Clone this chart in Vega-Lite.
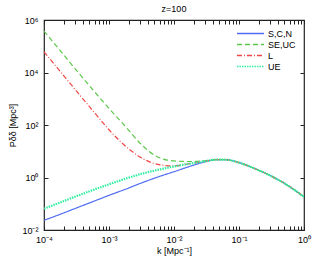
{
  "$schema": "https://vega.github.io/schema/vega-lite/v6.json",
  "width": 260,
  "height": 210,
  "autosize": {"type": "none"},
  "padding": {"left": 44, "top": 20, "right": 11, "bottom": 31},
  "background": "white",
  "title": {"text": "z=100", "fontSize": 9, "font": "Liberation Sans", "fontWeight": "normal", "offset": 2, "color": "black"},
  "config": {
    "view": {"stroke": "#222", "strokeWidth": 1.2},
    "axis": {"domain": false, "grid": false, "tickColor": "#222", "tickSize": -4, "labelFont": "Liberation Sans", "labelFontSize": 9, "labelColor": "black", "titleFont": "Liberation Sans", "titleFontSize": 9, "titleFontWeight": "normal", "titleColor": "black", "labelOverlap": false, "labelBound": false, "labelFlush": false},
    "legend": {"labelFont": "Liberation Sans", "labelFontSize": 9, "labelColor": "black"}
  },
  "data": {"values": [
    {"k": 0.0001, "P": 0.0234, "s": "S,C,N"},
    {"k": 0.000178, "P": 0.0398, "s": "S,C,N"},
    {"k": 0.000316, "P": 0.0692, "s": "S,C,N"},
    {"k": 0.000562, "P": 0.12, "s": "S,C,N"},
    {"k": 0.001, "P": 0.209, "s": "S,C,N"},
    {"k": 0.00178, "P": 0.355, "s": "S,C,N"},
    {"k": 0.00316, "P": 0.62, "s": "S,C,N"},
    {"k": 0.00562, "P": 1.04, "s": "S,C,N"},
    {"k": 0.01, "P": 1.66, "s": "S,C,N"},
    {"k": 0.0178, "P": 2.69, "s": "S,C,N"},
    {"k": 0.0316, "P": 4.07, "s": "S,C,N"},
    {"k": 0.0447, "P": 4.79, "s": "S,C,N"},
    {"k": 0.0631, "P": 4.75, "s": "S,C,N"},
    {"k": 0.1, "P": 3.7, "s": "S,C,N"},
    {"k": 0.178, "P": 2.14, "s": "S,C,N"},
    {"k": 0.316, "P": 1.12, "s": "S,C,N"},
    {"k": 0.562, "P": 0.5, "s": "S,C,N"},
    {"k": 1.0, "P": 0.182, "s": "S,C,N"},

    {"k": 0.0001, "P": 380000, "s": "SE,UC"},
    {"k": 0.000178, "P": 67600, "s": "SE,UC"},
    {"k": 0.000316, "P": 12000, "s": "SE,UC"},
    {"k": 0.000562, "P": 2240, "s": "SE,UC"},
    {"k": 0.001, "P": 427, "s": "SE,UC"},
    {"k": 0.00178, "P": 89, "s": "SE,UC"},
    {"k": 0.00316, "P": 17.8, "s": "SE,UC"},
    {"k": 0.00562, "P": 6.0, "s": "SE,UC"},
    {"k": 0.01, "P": 4.27, "s": "SE,UC"},
    {"k": 0.0178, "P": 4.07, "s": "SE,UC"},
    {"k": 0.0316, "P": 4.37, "s": "SE,UC"},
    {"k": 0.0447, "P": 4.79, "s": "SE,UC"},
    {"k": 0.0631, "P": 4.75, "s": "SE,UC"},
    {"k": 0.1, "P": 3.7, "s": "SE,UC"},
    {"k": 0.178, "P": 2.14, "s": "SE,UC"},
    {"k": 0.316, "P": 1.12, "s": "SE,UC"},
    {"k": 0.562, "P": 0.5, "s": "SE,UC"},
    {"k": 1.0, "P": 0.182, "s": "SE,UC"},

    {"k": 0.0001, "P": 61660, "s": "L"},
    {"k": 0.000178, "P": 10965, "s": "L"},
    {"k": 0.000316, "P": 1950, "s": "L"},
    {"k": 0.000562, "P": 355, "s": "L"},
    {"k": 0.001, "P": 66, "s": "L"},
    {"k": 0.00178, "P": 15.8, "s": "L"},
    {"k": 0.00316, "P": 5.6, "s": "L"},
    {"k": 0.00562, "P": 3.16, "s": "L"},
    {"k": 0.01, "P": 2.75, "s": "L"},
    {"k": 0.0178, "P": 3.39, "s": "L"},
    {"k": 0.0316, "P": 4.27, "s": "L"},
    {"k": 0.0447, "P": 4.79, "s": "L"},
    {"k": 0.0631, "P": 4.75, "s": "L"},
    {"k": 0.1, "P": 3.7, "s": "L"},
    {"k": 0.178, "P": 2.14, "s": "L"},
    {"k": 0.316, "P": 1.12, "s": "L"},
    {"k": 0.562, "P": 0.5, "s": "L"},
    {"k": 1.0, "P": 0.182, "s": "L"},

    {"k": 0.0001, "P": 0.0646, "s": "UE"},
    {"k": 0.000178, "P": 0.112, "s": "UE"},
    {"k": 0.000316, "P": 0.195, "s": "UE"},
    {"k": 0.000562, "P": 0.331, "s": "UE"},
    {"k": 0.001, "P": 0.55, "s": "UE"},
    {"k": 0.00178, "P": 0.891, "s": "UE"},
    {"k": 0.00316, "P": 1.38, "s": "UE"},
    {"k": 0.00562, "P": 1.95, "s": "UE"},
    {"k": 0.01, "P": 2.63, "s": "UE"},
    {"k": 0.0178, "P": 3.39, "s": "UE"},
    {"k": 0.0316, "P": 4.27, "s": "UE"},
    {"k": 0.0447, "P": 4.79, "s": "UE"},
    {"k": 0.0631, "P": 4.75, "s": "UE"},
    {"k": 0.1, "P": 3.7, "s": "UE"},
    {"k": 0.178, "P": 2.14, "s": "UE"},
    {"k": 0.316, "P": 1.12, "s": "UE"},
    {"k": 0.562, "P": 0.5, "s": "UE"},
    {"k": 1.0, "P": 0.182, "s": "UE"}
  ]},
  "resolve": {"axis": {"x": "independent", "y": "independent"}},
  "layer": [
    {
      "transform": [{"filter": "datum.s != 'UE'"}],
      "mark": {"type": "line", "interpolate": "monotone", "strokeWidth": 1.2, "clip": true},
      "encoding": {
        "x": {"field": "k", "type": "quantitative", "scale": {"type": "log", "domain": [0.0001, 1], "nice": false},
          "axis": {"orient": "bottom", "title": "k [Mpc⁻¹]", "titlePadding": 2, "labelPadding": 9,
            "values": [0.0001,0.0002,0.0003,0.0004,0.0005,0.0006,0.0007,0.0008,0.0009,0.001,0.002,0.003,0.004,0.005,0.006,0.007,0.008,0.009,0.01,0.02,0.03,0.04,0.05,0.06,0.07,0.08,0.09,0.1,0.2,0.3,0.4,0.5,0.6,0.7,0.8,0.9,1],
            "labelExpr": "datum.value==0.0001?'10⁻⁴':datum.value==0.001?'10⁻³':datum.value==0.01?'10⁻²':datum.value==0.1?'10⁻¹':datum.value==1?'10⁰':''"}},
        "y": {"field": "P", "type": "quantitative", "scale": {"type": "log", "domain": [0.01, 1000000], "nice": false},
          "axis": {"orient": "left", "title": "Pδδ [Mpc³]", "titlePadding": 4, "labelPadding": 10,
            "values": [0.01, 1, 100, 10000, 1000000],
            "labelExpr": "datum.value==0.01?'10⁻²':datum.value==1?'10⁰':datum.value==100?'10²':datum.value==10000?'10⁴':'10⁶'"}},
        "color": {"field": "s", "type": "nominal", "title": null,
          "scale": {"domain": ["S,C,N", "SE,UC", "L", "UE"], "range": ["#4f6cf2", "#5cc84a", "#f04848", "#33eea0"]},
          "legend": {"orient": "top-right", "offset": 8, "symbolType": "stroke", "symbolSize": 729, "symbolStrokeWidth": 1.3, "clipHeight": 11, "rowPadding": 0, "labelOffset": 3, "padding": 0}},
        "strokeDash": {"field": "s", "type": "nominal", "title": null,
          "scale": {"domain": ["S,C,N", "SE,UC", "L", "UE"], "range": [[1, 0], [5, 3], [5, 2, 1, 2], [1.5, 1]]},
          "legend": {"orient": "top-right", "offset": 8, "symbolType": "stroke", "symbolSize": 729, "symbolStrokeWidth": 1.3, "clipHeight": 11, "rowPadding": 0, "labelOffset": 3, "padding": 0}}
      }
    },
    {
      "transform": [{"filter": "datum.s == 'UE'"}],
      "mark": {"type": "line", "interpolate": "monotone", "strokeWidth": 2.2, "clip": true},
      "encoding": {
        "x": {"field": "k", "type": "quantitative", "axis": null},
        "y": {"field": "P", "type": "quantitative", "axis": null},
        "color": {"field": "s", "type": "nominal", "title": null},
        "strokeDash": {"field": "s", "type": "nominal", "title": null}
      }
    },
    {
      "mark": {"type": "point", "opacity": 0},
      "encoding": {
        "x": {"field": "k", "type": "quantitative",
          "axis": {"orient": "top", "title": null, "labels": false,
            "values": [0.0001,0.0002,0.0003,0.0004,0.0005,0.0006,0.0007,0.0008,0.0009,0.001,0.002,0.003,0.004,0.005,0.006,0.007,0.008,0.009,0.01,0.02,0.03,0.04,0.05,0.06,0.07,0.08,0.09,0.1,0.2,0.3,0.4,0.5,0.6,0.7,0.8,0.9,1]}},
        "y": {"field": "P", "type": "quantitative",
          "axis": {"orient": "right", "title": null, "labels": false, "values": [0.01, 1, 100, 10000, 1000000]}}
      }
    }
  ]
}
